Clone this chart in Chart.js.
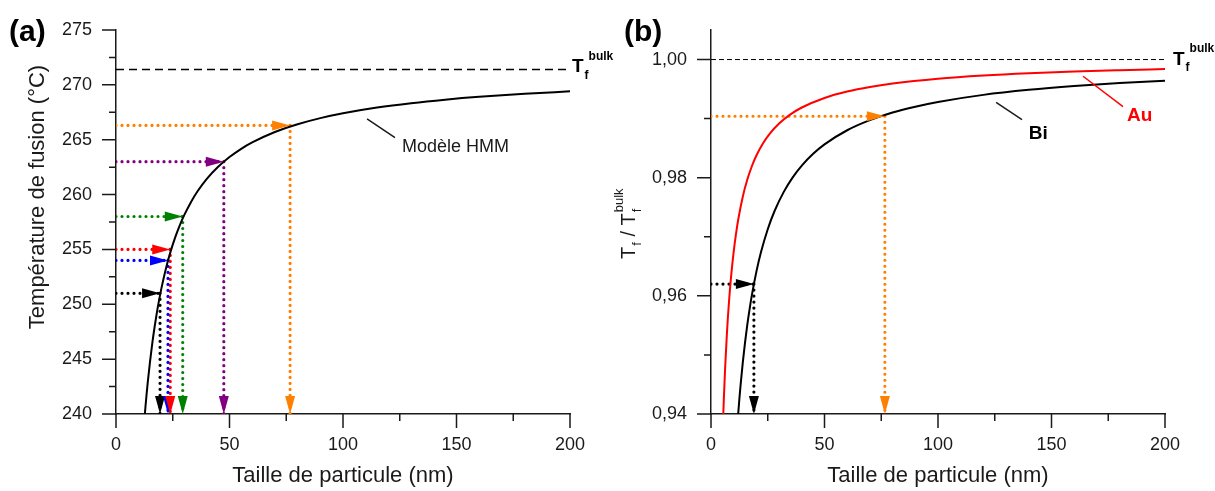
<!DOCTYPE html>
<html>
<head>
<meta charset="utf-8">
<script src="https://cdn.jsdelivr.net/npm/chart.js@4.4.0/dist/chart.umd.min.js"></script>
<style>
  html, body { margin: 0; padding: 0; background: #fff; }
  #wrap { position: relative; width: 1215px; height: 491px; overflow: hidden; }
  canvas { position: absolute; top: 0; }
  #panelA { left: 0; }
  #panelB { left: 607px; }
</style>
</head>
<body>
<div id="wrap">
  <canvas id="panelA" width="640" height="491"></canvas>
  <canvas id="panelB" width="608" height="491"></canvas>
</div>
<script>
const FONT = '"Liberation Sans", Arial, sans-serif';
const INK = '#1a1a1a';

// (a) melting temperature vs particle size, HMM model
const sizeA = [12.5, 13, 13.5, 14, 15, 16, 17, 18, 19, 20, 22, 24, 26, 28, 30, 33, 36, 40, 45, 50, 55, 60, 70, 80, 90,
               100, 115, 130, 145, 160, 180, 200];
const tempA = [239.48, 240.71, 241.85, 242.90, 244.80, 246.47, 247.93, 249.24, 250.40, 251.45, 253.27, 254.78, 256.06,
               257.15, 258.10, 259.31, 260.32, 261.43, 262.53, 263.42, 264.15, 264.75, 265.70, 266.41, 266.97, 267.41,
               267.93, 268.33, 268.65, 268.91, 269.18, 269.41];
const tBulkA = 271.4;

// (a) measured particles: size (nm), melting temperature (°C)
const arrowSizeA = [19.4, 22.9, 23.9, 29.4, 47.5, 76.7];
const arrowTempA = [251, 254, 255, 258, 263, 266.3];
const arrowColorA = ['#000000', '#0000ff', '#ff0000', '#008000', '#800080', '#ff8000'];

// (b) reduced melting temperature Tf / Tf bulk
const sizeBi = [11.8, 12.5, 13, 14, 15, 16, 17, 18, 20, 22, 25, 28, 32, 36, 40, 45, 50, 60, 70, 80, 90, 100, 120, 140,
                160, 180, 200];
const ratioBi = [0.93915, 0.94256, 0.94477, 0.94871, 0.95213, 0.95513, 0.95776, 0.96011, 0.96410, 0.96736, 0.97128,
                 0.97436, 0.97756, 0.98006, 0.98205, 0.98404, 0.98564, 0.98803, 0.98974, 0.99103, 0.99202, 0.99282,
                 0.99402, 0.99487, 0.99551, 0.99601, 0.99641];
const sizeAu = [5.3, 5.7, 6.2, 7, 8, 9, 10, 11, 12, 14, 16, 18, 20, 23, 26, 30, 35, 40, 50, 60, 70, 80, 100, 120, 140,
                160, 180, 200];
const ratioAu = [0.93868, 0.94298, 0.94758, 0.95357, 0.95938, 0.96389, 0.96750, 0.97045, 0.97292, 0.97679, 0.97969,
                 0.98194, 0.98375, 0.98587, 0.98750, 0.98917, 0.99071, 0.99188, 0.99350, 0.99458, 0.99536, 0.99594,
                 0.99675, 0.99729, 0.99768, 0.99797, 0.99819, 0.99838];
const arrowSizeB = [18.9, 76.6];
const arrowRatioB = [0.962, 0.9904];
const arrowColorB = ['#000000', '#ff8000'];

const xTicks = [0, 50, 100, 150, 200];
const yTicksA = [240, 245, 250, 255, 260, 265, 270, 275];
const yTicksB = [0.94, 0.96, 0.98, 1.00];

/**
 * Dotted guide lines (horizontal then vertical), each ending with an arrow head.
 */
function arrowDatasets(sizes, values, colors, yMin) {
    const sets = [];
    sizes.forEach((d, i) => {
        const style = {
            borderColor: colors[i], borderWidth: 3.2, borderDash: [0, 6], borderCapStyle: 'round',
            pointRadius: 0, tension: 0, arrowHead: true,
        };
        sets.push({ ...style, data: [{ x: 0, y: values[i] }, { x: d, y: values[i] }] });
        sets.push({ ...style, data: [{ x: d, y: values[i] }, { x: d, y: yMin }] });
    });
    return sets;
}

function curve(xs, ys, color, width) {
    return {
        data: xs.map((x, i) => ({ x: x, y: ys[i] })),
        borderColor: color, borderWidth: width, pointRadius: 0, cubicInterpolationMode: 'monotone',
    };
}

function bulkLine(value, width, dash) {
    return {
        data: [{ x: 0, y: value }, { x: 200, y: value }],
        borderColor: '#000', borderWidth: width, borderDash: dash, pointRadius: 0,
    };
}

// arrow heads at the end of flagged datasets
const arrowHeads = {
    id: 'arrowHeads',
    afterDatasetsDraw(chart) {
        const ctx = chart.ctx;
        chart.data.datasets.forEach((ds, i) => {
            if (!ds.arrowHead) return;
            const pts = chart.getDatasetMeta(i).data;
            const tip = pts[pts.length - 1], prev = pts[pts.length - 2];
            const a = Math.atan2(tip.y - prev.y, tip.x - prev.x);
            const len = 18, half = 5;
            const bx = tip.x - len * Math.cos(a), by = tip.y - len * Math.sin(a);
            ctx.save();
            ctx.fillStyle = ds.borderColor;
            ctx.beginPath();
            ctx.moveTo(tip.x, tip.y);
            ctx.lineTo(bx + half * Math.sin(a), by - half * Math.cos(a));
            ctx.lineTo(bx - half * Math.sin(a), by + half * Math.cos(a));
            ctx.closePath();
            ctx.fill();
            ctx.restore();
        });
    }
};

// outward major and minor tick marks
const axisTicks = {
    id: 'axisTicks',
    afterDraw(chart) {
        const { ctx, chartArea, scales } = chart;
        const each = (ticks, fn) => ticks.forEach((t, i) => {
            fn(t.value, 14);
            if (i < ticks.length - 1) fn((t.value + ticks[i + 1].value) / 2, 7);
        });
        ctx.save();
        ctx.strokeStyle = INK;
        ctx.lineWidth = 1.5;
        ctx.beginPath();
        each(scales.x.ticks, (v, len) => {
            const px = scales.x.getPixelForValue(v);
            ctx.moveTo(px, chartArea.bottom);
            ctx.lineTo(px, chartArea.bottom + len);
        });
        each(scales.y.ticks, (v, len) => {
            const py = scales.y.getPixelForValue(v);
            ctx.moveTo(chartArea.left - len, py);
            ctx.lineTo(chartArea.left, py);
        });
        ctx.stroke();
        ctx.restore();
    }
};

// "T" with subscript f (and superscript bulk), written left to right from (x, y)
function drawTf(ctx, x, y, big, small, withBulk) {
    ctx.font = `${big}px ${FONT}`;
    ctx.fillText('T', x, y);
    x += ctx.measureText('T').width + 1;
    ctx.font = `${small}px ${FONT}`;
    ctx.fillText('f', x, y + small * 0.45);
    if (withBulk) {
        ctx.fillText('bulk', x, y - big * 0.6);
        return x + ctx.measureText('bulk').width;
    }
    return x + ctx.measureText('f').width;
}

/**
 * Texts, leader lines and labels of a panel.
 */
function makeNotes(cfg) {
    return {
        id: 'notes',
        afterDraw(chart) {
            const { ctx, scales: { x, y } } = chart;
            ctx.save();
            ctx.textAlign = 'left';
            ctx.textBaseline = 'alphabetic';
            cfg.lines.forEach(l => {
                ctx.strokeStyle = l.color;
                ctx.lineWidth = 1.5;
                ctx.beginPath();
                ctx.moveTo(x.getPixelForValue(l.from[0]), y.getPixelForValue(l.from[1]));
                ctx.lineTo(x.getPixelForValue(l.to[0]), y.getPixelForValue(l.to[1]));
                ctx.stroke();
            });
            cfg.labels.forEach(t => {
                ctx.font = t.font;
                ctx.fillStyle = t.color;
                ctx.fillText(t.text, x.getPixelForValue(t.at[0]), y.getPixelForValue(t.at[1]));
            });

            // panel tag
            ctx.fillStyle = '#000';
            ctx.font = `bold 30px ${FONT}`;
            ctx.fillText(cfg.tag, cfg.tagX, 41);

            // Tf bulk label at the end of the dashed line
            const bx = x.getPixelForValue(200) + cfg.bulkDx;
            const by = y.getPixelForValue(cfg.bulkValue) + cfg.bulkDy;
            ctx.font = `bold 19px ${FONT}`;
            const tw = ctx.measureText('T').width;
            ctx.fillText('T', bx, by);
            ctx.font = `bold 12px ${FONT}`;
            ctx.fillText('f', bx + tw + 1, by + 6.5);
            ctx.fillText('bulk', bx + tw + 5, by - 12.5);

            // y axis title
            ctx.fillStyle = INK;
            ctx.translate(cfg.titleX, cfg.titleY);
            ctx.rotate(-Math.PI / 2);
            if (cfg.title) {
                ctx.textAlign = 'center';
                ctx.font = `22px ${FONT}`;
                ctx.fillText(cfg.title, 0, 0);
            } else {
                // T_f / T_f^bulk
                let cx = -37;
                cx = drawTf(ctx, cx, 0, 20, 13, false);
                ctx.font = `20px ${FONT}`;
                ctx.fillText(' / ', cx, 0);
                cx += ctx.measureText(' / ').width;
                drawTf(ctx, cx, 0, 20, 13, true);
            }
            ctx.restore();
        }
    };
}

function xAxis() {
    return {
        type: 'linear', min: 0, max: 200,
        afterBuildTicks: axis => { axis.ticks = xTicks.map(v => ({ value: v })); },
        afterFit: axis => { axis.height = 77; },
        grid: { drawOnChartArea: false, drawTicks: false },
        border: { color: INK, width: 1.5 },
        ticks: { color: INK, font: { family: FONT, size: 18 }, padding: 20, maxRotation: 0 },
        title: {
            display: true, text: 'Taille de particule (nm)', color: INK,
            font: { family: FONT, size: 22 }, padding: { top: 0, bottom: 2 },
        },
    };
}

function yAxis(min, max, ticks, width, format) {
    return {
        type: 'linear', min: min, max: max,
        afterBuildTicks: axis => { axis.ticks = ticks.map(v => ({ value: v })); },
        afterFit: axis => {
            axis.width = width;
            axis.paddingTop = 0;
            axis.paddingBottom = 0;
        },
        grid: { drawOnChartArea: false, drawTicks: false },
        border: { color: INK, width: 1.5 },
        ticks: { color: INK, font: { family: FONT, size: 18 }, padding: 24, callback: format },
    };
}

/**
 * Draws panel (a): melting temperature of Bi particles.
 */
function draw_a() {
    const yMin = yTicksA[0];
    new Chart(document.getElementById('panelA'), {
        type: 'line',
        data: {
            datasets: [
                curve(sizeA, tempA, '#000', 2),
                bulkLine(tBulkA, 1.5, [8, 5]),
                ...arrowDatasets(arrowSizeA, arrowTempA, arrowColorA, yMin),
            ]
        },
        options: {
            responsive: false, animation: false, devicePixelRatio: 1,
            layout: { padding: { top: 30, right: 70, bottom: 0, left: 0 } },
            plugins: { legend: { display: false }, tooltip: { enabled: false } },
            scales: {
                x: xAxis(),
                y: yAxis(yMin, 275, yTicksA, 116, v => String(v)),
            },
        },
        plugins: [arrowHeads, axisTicks, makeNotes({
            tag: '(a)', tagX: 9,
            bulkValue: tBulkA, bulkDx: 2, bulkDy: 3,
            title: 'Température de fusion (°C)', titleX: 44, titleY: 197,
            lines: [{ from: [110.6, 266.9], to: [122.9, 265.2], color: INK }],
            labels: [{ text: 'Modèle HMM', at: [126, 263.9], font: `18px ${FONT}`, color: INK }],
        })],
    });
}

/**
 * Draws panel (b): reduced melting temperature of Bi and Au.
 */
function draw_b() {
    const yMin = yTicksB[0];
    new Chart(document.getElementById('panelB'), {
        type: 'line',
        data: {
            datasets: [
                curve(sizeBi, ratioBi, '#000', 2),
                curve(sizeAu, ratioAu, '#ff0000', 2),
                bulkLine(1.0, 1, [5, 3]),
                ...arrowDatasets(arrowSizeB, arrowRatioB, arrowColorB, yMin),
            ]
        },
        options: {
            responsive: false, animation: false, devicePixelRatio: 1,
            layout: { padding: { top: 30, right: 50, bottom: 0, left: 0 } },
            plugins: { legend: { display: false }, tooltip: { enabled: false } },
            scales: {
                x: xAxis(),
                y: yAxis(yMin, 1.005, yTicksB, 104, v => v.toFixed(2).replace('.', ',')),
            },
        },
        plugins: [arrowHeads, axisTicks, makeNotes({
            tag: '(b)', tagX: 17,
            bulkValue: 1.0, bulkDx: 8, bulkDy: 5,
            title: null, titleX: 28, titleY: 222,
            lines: [
                { from: [125.6, 0.99275], to: [137, 0.98982], color: INK },
                { from: [163.9, 0.99717], to: [181.5, 0.99203], color: '#ff0000' },
            ],
            labels: [
                { text: 'Bi', at: [140, 0.9866], font: `bold 19px ${FONT}`, color: '#000' },
                { text: 'Au', at: [183.3, 0.98966], font: `bold 19px ${FONT}`, color: '#ff0000' },
            ],
        })],
    });
}

draw_a();
draw_b();
</script>
</body>
</html>
